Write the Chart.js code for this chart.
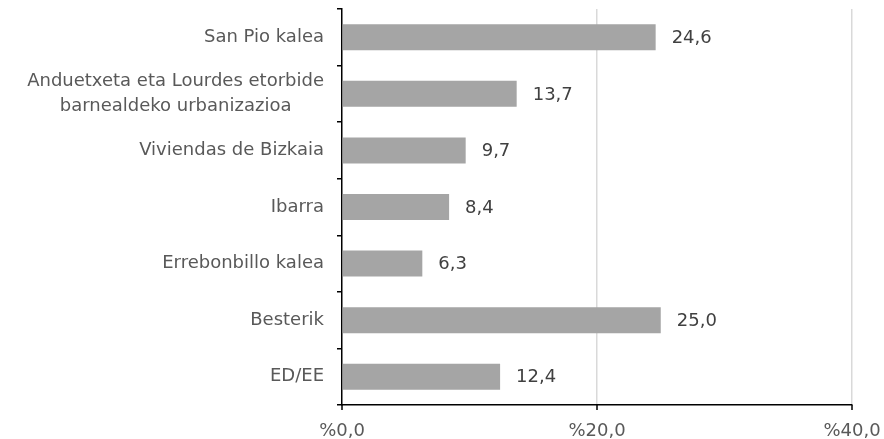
<!DOCTYPE html>
<html>
<head>
<meta charset="utf-8">
<script src="https://cdn.jsdelivr.net/npm/chart.js@4/dist/chart.umd.min.js"></script>
<style>
  html, body { margin: 0; padding: 0; background: #fff; }
  #wrap { width: 884px; height: 439px; }
</style>
</head>
<body>
<div id="wrap"><canvas id="chart" width="884" height="439"></canvas></div>
<script>
// Chart data
const categories = [
    'San Pio kalea',
    ['Anduetxeta eta Lourdes etorbide', 'barnealdeko urbanizazioa'],
    'Viviendas de Bizkaia',
    'Ibarra',
    'Errebonbillo kalea',
    'Besterik',
    'ED/EE'
];
const values = [24.6, 13.7, 9.7, 8.4, 6.3, 25.0, 12.4];
const xTicks = [0, 20, 40];

const FONT = '"DejaVu Sans", Verdana, sans-serif';

function fmt(v) {
    return v.toFixed(1).replace('.', ',');
}

// Draws the category labels (centered lines for wrapped labels) and the bar values
const labelPlugin = {
    id: 'labels',
    afterDraw(chart) {
        const ctx = chart.ctx;
        const yScale = chart.scales.y;
        const meta = chart.getDatasetMeta(0);
        ctx.save();
        ctx.font = '18px ' + FONT;
        ctx.textBaseline = 'middle';

        // category labels
        ctx.fillStyle = '#595959';
        ctx.textAlign = 'center';
        const rightX = chart.chartArea.left - 18;
        categories.forEach((lab, i) => {
            const lines = Array.isArray(lab) ? lab : [lab];
            const maxW = Math.max(...lines.map(l => ctx.measureText(l).width));
            const cy = yScale.getPixelForValue(i);
            const lh = 25;
            lines.forEach((l, j) => {
                const y = cy + (j - (lines.length - 1) / 2) * lh;
                ctx.fillText(l, rightX - maxW / 2, y);
            });
        });

        // value labels
        ctx.fillStyle = '#404040';
        ctx.textAlign = 'left';
        meta.data.forEach((bar, i) => {
            ctx.fillText(fmt(values[i]), bar.x + 16, bar.y + 1);
        });
        ctx.restore();
    }
};

new Chart(document.getElementById('chart').getContext('2d'), {
    type: 'bar',
    data: {
        labels: categories,
        datasets: [{
            data: values,
            backgroundColor: '#a5a5a5',
            borderWidth: 0,
            barPercentage: 0.46,
            categoryPercentage: 1.0
        }]
    },
    options: {
        indexAxis: 'y',
        responsive: false,
        animation: false,
        layout: { padding: { top: 9, right: 32, left: 0, bottom: 0 } },
        plugins: {
            legend: { display: false },
            tooltip: { enabled: false }
        },
        scales: {
            x: {
                min: 0,
                max: 40,
                afterBuildTicks: (scale) => {
                    scale.ticks = xTicks.map(v => ({ value: v }));
                },
                afterFit: (scale) => {
                    scale.height = 34;
                    scale.paddingLeft = 0;
                    scale.paddingRight = 0;
                },
                border: { display: true, color: '#000', width: 1.5 },
                grid: {
                    color: (c) => c.tick && c.tick.value === 0 ? 'rgba(0,0,0,0)' : '#d9d9d9',
                    lineWidth: 1.5,
                    drawTicks: false
                },
                ticks: {
                    color: '#595959',
                    font: { family: FONT, size: 18 },
                    padding: 16,
                    maxRotation: 0,
                    callback: (v) => '%' + fmt(v)
                }
            },
            y: {
                afterFit: (scale) => {
                    scale.width = 342;
                    scale.paddingTop = 0;
                    scale.paddingBottom = 0;
                },
                border: { display: true, color: '#000', width: 1.5 },
                grid: {
                    offset: true,
                    drawOnChartArea: false,
                    drawTicks: true,
                    tickLength: 5,
                    color: '#000',
                    lineWidth: 1.5
                },
                ticks: {
                    color: 'rgba(0,0,0,0)',
                    font: { family: FONT, size: 16 }
                }
            }
        }
    },
    plugins: [labelPlugin, {
        // downward tick marks on x axis
        id: 'xTickMarks',
        afterDraw(chart) {
            const ctx = chart.ctx;
            const xs = chart.scales.x;
            const bottom = chart.chartArea.bottom;
            ctx.save();
            ctx.strokeStyle = '#000';
            ctx.lineWidth = 1.5;
            xTicks.forEach(v => {
                const x = xs.getPixelForValue(v);
                ctx.beginPath();
                ctx.moveTo(x, bottom);
                ctx.lineTo(x, bottom + 5);
                ctx.stroke();
            });
            ctx.restore();
        }
    }]
});
</script>
</body>
</html>
